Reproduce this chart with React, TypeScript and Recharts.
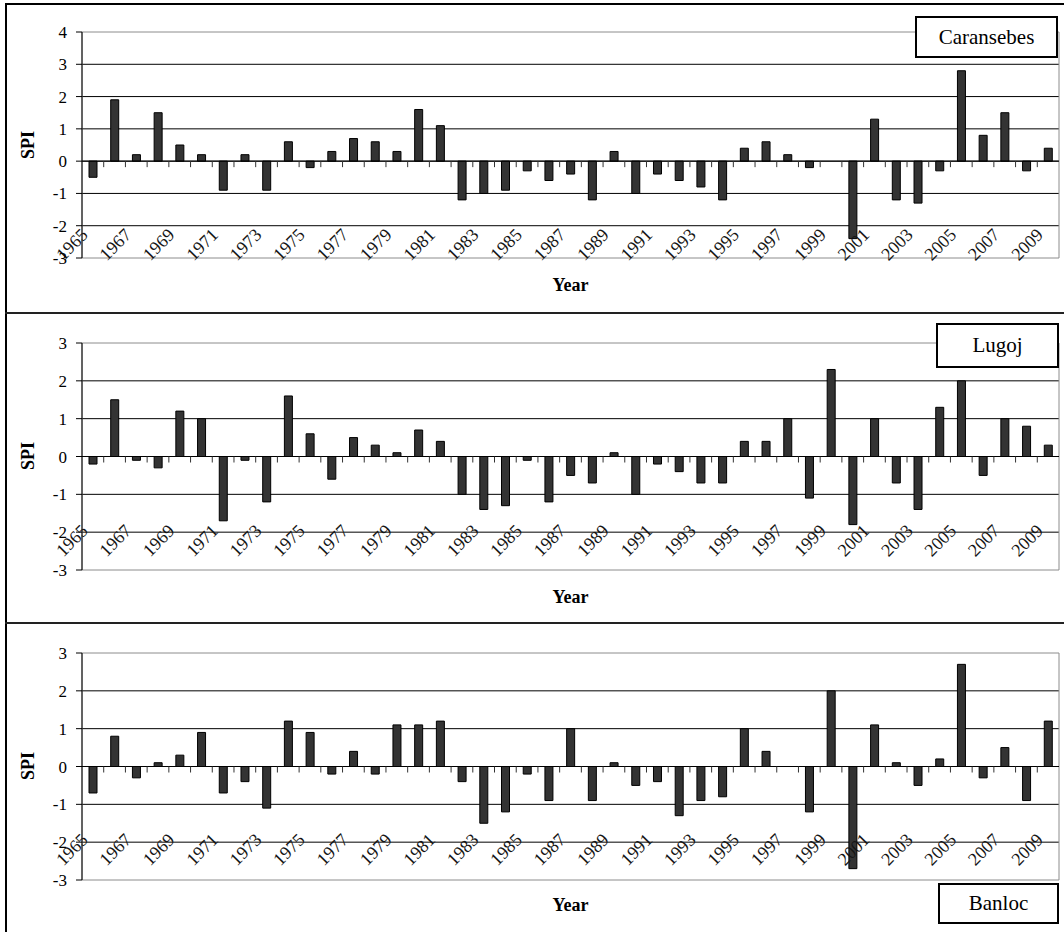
import React from "react";
import {
  BarChart,
  Bar,
  XAxis,
  YAxis,
  CartesianGrid,
  ReferenceLine,
  ReferenceArea,
} from "recharts";

const years = [
  1965, 1966, 1967, 1968, 1969, 1970, 1971, 1972, 1973, 1974, 1975, 1976,
  1977, 1978, 1979, 1980, 1981, 1982, 1983, 1984, 1985, 1986, 1987, 1988,
  1989, 1990, 1991, 1992, 1993, 1994, 1995, 1996, 1997, 1998, 1999, 2000,
  2001, 2002, 2003, 2004, 2005, 2006, 2007, 2008, 2009,
];

const caransebes = [
  -0.5, 1.9, 0.2, 1.5, 0.5, 0.2, -0.9, 0.2, -0.9, 0.6, -0.2, 0.3, 0.7, 0.6,
  0.3, 1.6, 1.1, -1.2, -1.0, -0.9, -0.3, -0.6, -0.4, -1.2, 0.3, -1.0, -0.4,
  -0.6, -0.8, -1.2, 0.4, 0.6, 0.2, -0.2, 0, -2.4, 1.3, -1.2, -1.3, -0.3, 2.8,
  0.8, 1.5, -0.3, 0.4,
];

const lugoj = [
  -0.2, 1.5, -0.1, -0.3, 1.2, 1.0, -1.7, -0.1, -1.2, 1.6, 0.6, -0.6, 0.5, 0.3,
  0.1, 0.7, 0.4, -1.0, -1.4, -1.3, -0.1, -1.2, -0.5, -0.7, 0.1, -1.0, -0.2,
  -0.4, -0.7, -0.7, 0.4, 0.4, 1.0, -1.1, 2.3, -1.8, 1.0, -0.7, -1.4, 1.3, 2.0,
  -0.5, 1.0, 0.8, 0.3,
];

const banloc = [
  -0.7, 0.8, -0.3, 0.1, 0.3, 0.9, -0.7, -0.4, -1.1, 1.2, 0.9, -0.2, 0.4, -0.2,
  1.1, 1.1, 1.2, -0.4, -1.5, -1.2, -0.2, -0.9, 1.0, -0.9, 0.1, -0.5, -0.4,
  -1.3, -0.9, -0.8, 1.0, 0.4, 0, -1.2, 2.0, -2.7, 1.1, 0.1, -0.5, 0.2, 2.7,
  -0.3, 0.5, -0.9, 1.2,
];

const ticksTop = [-3, -2, -1, 0, 1, 2, 3, 4];
const ticksLow = [-3, -2, -1, 0, 1, 2, 3];

const FONT = "Liberation Serif";
const W = 1064;
const H = 310;
const LEFT = 82;
const RIGHT = 5;
const PLOT_W = W - LEFT - RIGHT;

type PanelProps = {
  top: number;
  values: number[];
  ticks: number[];
  marginTop: number;
  axisH: number;
  lift: number;
};

function Panel({ top, values, ticks, marginTop, axisH, lift }: PanelProps) {
  const data = years.map((y, i) => ({ year: String(y), v: values[i] }));
  const min = ticks[0];
  const max = ticks[ticks.length - 1];
  const plotH = H - marginTop - axisH;
  const plotBottom = marginTop + plotH;
  const zeroY = marginTop + (max / (max - min)) * plotH;
  const bw = PLOT_W / years.length;

  // tick marks sit on the zero line at category edges, year labels every other bar
  const renderTick = (props: any) => {
    const { x, payload, index } = props;
    const bx = x - bw / 2;
    const ax = x - 4;
    const ay = plotBottom - lift;
    return (
      <g key={`t-${index}`}>
        {index > 0 && (
          <line x1={bx} x2={bx} y1={zeroY} y2={zeroY + 6} stroke="#333" />
        )}
        {index % 2 === 0 && (
          <g transform={`translate(${ax} ${ay}) rotate(-45)`}>
            <text
              x={0}
              y={0}
              textAnchor="end"
              style={{ fontFamily: FONT, fontSize: 18, fill: "#151515" }}
            >
              {payload.value}
            </text>
          </g>
        )}
      </g>
    );
  };

  return (
    <div style={{ position: "absolute", left: 0, top }}>
      <BarChart
        width={W}
        height={H}
        data={data}
        margin={{ top: marginTop, right: RIGHT, bottom: 0, left: 0 }}
      >
        <CartesianGrid
          vertical={false}
          stroke="#000"
          horizontalValues={ticks.slice(1, -1)}
        />
        <ReferenceArea
          y1={min}
          y2={max}
          fill="none"
          stroke="#8c8c8c"
          ifOverflow="visible"
        />
        <XAxis
          dataKey="year"
          height={axisH}
          interval={0}
          axisLine={false}
          tickLine={false}
          tickSize={0}
          tick={renderTick}
        />
        <YAxis
          width={LEFT}
          domain={[min, max]}
          ticks={ticks}
          interval={0}
          allowDataOverflow
          tickSize={6}
          tickMargin={9}
          stroke="#000"
          tick={{ fill: "#000", fontFamily: FONT, fontSize: 17 }}
        />
        <ReferenceLine y={0} stroke="#000" />
        <Bar
          dataKey="v"
          fill="#333333"
          stroke="#000"
          strokeWidth={1}
          barSize={8}
          isAnimationActive={false}
        />
      </BarChart>
    </div>
  );
}

const textStyle: React.CSSProperties = {
  position: "absolute",
  fontFamily: FONT,
  color: "#000",
  whiteSpace: "nowrap",
};

function StationBox({
  name,
  left,
  top,
  width,
  height,
}: {
  name: string;
  left: number;
  top: number;
  width: number;
  height: number;
}) {
  return (
    <div
      style={{
        position: "absolute",
        left,
        top,
        width,
        height,
        boxSizing: "border-box",
        border: "2px solid #000",
        background: "#fff",
        display: "flex",
        alignItems: "center",
        justifyContent: "center",
        fontFamily: FONT,
        fontSize: 21,
      }}
    >
      {name}
    </div>
  );
}

export default function App() {
  const plotCx = LEFT + PLOT_W / 2;
  return (
    <div
      style={{
        position: "absolute",
        left: 0,
        top: 0,
        width: W,
        height: 932,
        background: "#fff",
        overflow: "hidden",
      }}
    >
      <Panel top={0} values={caransebes} ticks={ticksTop} marginTop={32} axisH={52} lift={22} />
      <Panel top={310} values={lugoj} ticks={ticksLow} marginTop={33} axisH={50} lift={38} />
      <Panel top={620} values={banloc} ticks={ticksLow} marginTop={33} axisH={50} lift={39} />

      {[145, 456, 766].map((cy) => (
        <div
          key={cy}
          style={{
            ...textStyle,
            left: 28,
            top: cy,
            fontSize: 18,
            fontWeight: "bold",
            transform: "translate(-50%, -50%) rotate(-90deg)",
          }}
        >
          SPI
        </div>
      ))}
      {[285, 597, 905].map((cy) => (
        <div
          key={cy}
          style={{
            ...textStyle,
            left: plotCx,
            top: cy,
            fontSize: 18,
            fontWeight: "bold",
            transform: "translate(-50%, -50%)",
          }}
        >
          Year
        </div>
      ))}

      <StationBox name="Caransebes" left={915} top={16} width={143} height={42} />
      <StationBox name="Lugoj" left={936} top={323} width={123} height={45} />
      <StationBox name="Banloc" left={938} top={883} width={121} height={41} />

      {/* outer frame and panel separators */}
      <div style={{ position: "absolute", left: 5, top: 3, width: 2, height: 929, background: "#000" }} />
      <div style={{ position: "absolute", left: 5, top: 3, width: 1059, height: 2, background: "#000" }} />
      <div style={{ position: "absolute", left: 5, top: 312, width: 1059, height: 2, background: "#222" }} />
      <div style={{ position: "absolute", left: 5, top: 622, width: 1059, height: 2, background: "#222" }} />
    </div>
  );
}
